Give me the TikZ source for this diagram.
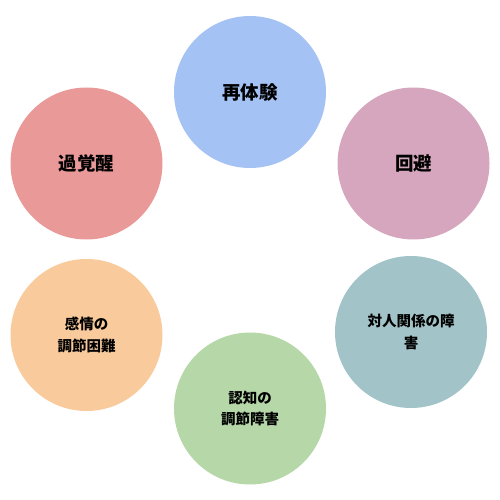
\documentclass[tikz,border=0pt]{standalone}
\usepackage{fontspec}
\newfontfamily\cjk{Noto Sans CJK JP}
\definecolor{cblue}{HTML}{A4C2F4}
\definecolor{cpink}{HTML}{D5A6BD}
\definecolor{cred}{HTML}{EA9999}
\definecolor{corange}{HTML}{F9CB9C}
\definecolor{cgreen}{HTML}{B6D7A8}
\definecolor{cteal}{HTML}{A2C4C9}
\tikzset{
  bubble/.style={circle, minimum size=152pt, inner sep=0pt, align=center, text=black},
  bigtxt/.style={font=\cjk\bfseries\fontsize{18.5}{20}\selectfont},
  smalltxt/.style={font=\cjk\bfseries\fontsize{14.5}{21.5}\selectfont}
}
\begin{document}
\begin{tikzpicture}[x=1pt,y=-1pt]
\useasboundingbox (0,0) rectangle (500,500);
\node[bubble, bigtxt, fill=cblue] (reexp) at (250,92) {再体験};
\node[bubble, bigtxt, fill=cpink] (avoid) at (413.5,163.5) {回避};
\node[bubble, bigtxt, fill=cred] (hyper) at (86.5,163.5) {過覚醒};
\node[bubble, smalltxt, fill=corange] (emo) at (86.5,335) {感情の\\調節困難};
\node[bubble, smalltxt, fill=cgreen] (cog) at (250,408.5) {認知の\\調節障害};
\node[bubble, smalltxt, fill=cteal] (inter) at (411,332) {対人関係の障\\害};
\end{tikzpicture}
\end{document}
